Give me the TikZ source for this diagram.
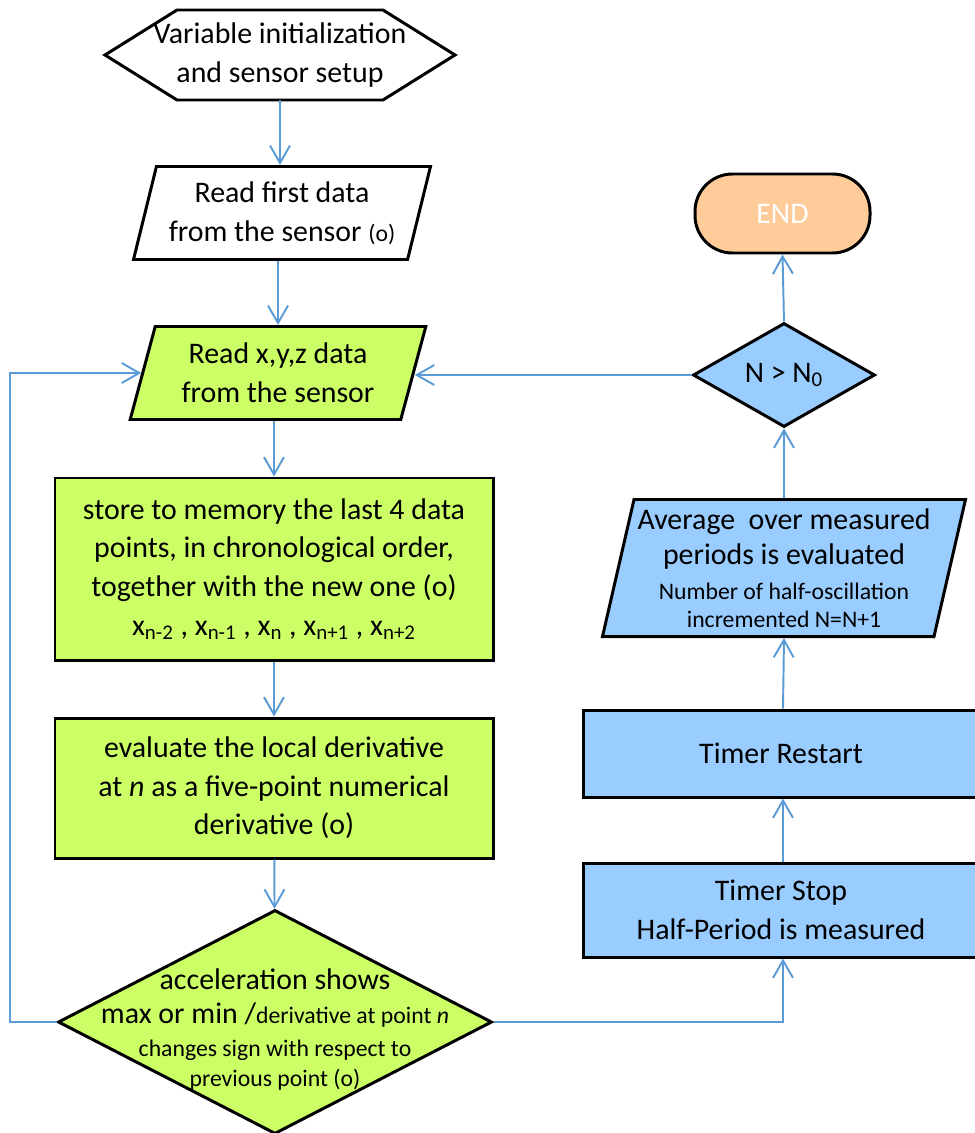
\documentclass[tikz,border=0pt]{standalone}
\usepackage{fontspec}
\setmainfont{Carlito}
\usetikzlibrary{shapes.geometric,arrows.meta}
\definecolor{flowline}{HTML}{5B9BD5}
\definecolor{greenbox}{HTML}{CCFF66}
\definecolor{bluebox}{HTML}{99CCFF}
\definecolor{endbox}{HTML}{FFCC99}
\newcommand{\smtxt}{\fontsize{13.5}{18}\selectfont}

\begin{document}
\begin{tikzpicture}[
    box/.style={draw, line width=1.7pt, align=center, inner sep=2pt, font=\fontsize{17}{22}\selectfont},
    io/.style={box, trapezium, trapezium left angle=73, trapezium right angle=107, trapezium stretches=true},
    decision/.style={box, diamond, inner sep=0pt},
    flow/.style={draw=flowline, line width=1.1pt, -{Straight Barb[length=3.5mm,width=4mm]}}
  ]
  \useasboundingbox (0,0) rectangle (19.48,-22.66);

  % left column
  \node[align=center, outer sep=0pt, minimum width=7cm, minimum height=1.8cm,
        font=\fontsize{17}{22}\selectfont] (init) at (5.6,-1.1)
        {Variable initialization\\and sensor setup};
  \draw[line width=1.7pt] (init.west) -- ([xshift=1.44cm]init.north west) -- ([xshift=-1.44cm]init.north east)
     -- (init.east) -- ([xshift=-1.44cm]init.south east) -- ([xshift=1.44cm]init.south west) -- cycle;
  \node[io, minimum width=5.94cm, minimum height=1.86cm] (first) at (5.64,-4.26)
        {Read first data\\from the sensor {\smtxt (o)}};
  \node[io, fill=greenbox, minimum width=5.92cm, minimum height=1.86cm] (read) at (5.56,-7.46)
        {Read x,y,z data\\from the sensor};
  \node[box, fill=greenbox, minimum width=8.76cm, minimum height=3.64cm] (store) at (5.48,-11.38)
        {store to memory the last 4 data\\points, in chronological order,\\together with the new one (o)\\
         x\textsubscript{n-2} , x\textsubscript{n-1} , x\textsubscript{n} , x\textsubscript{n+1} , x\textsubscript{n+2}};
  \node[box, fill=greenbox, minimum width=8.76cm, minimum height=2.8cm] (deriv) at (5.48,-15.76)
        {evaluate the local derivative\\at \textit{n} as a five-point numerical\\derivative (o)};
  \node[decision, fill=greenbox, minimum width=8.68cm, minimum height=4.48cm] (check) at (5.5,-20.44) {};
  \node[align=center, font=\fontsize{17}{19}\selectfont] (checktxt) at ([yshift=-0.15cm]check.center)
        {acceleration shows\\max or min /{\smtxt derivative at point \textit{n}}\\
         {\smtxt changes sign with respect to}\\[-2pt]{\smtxt previous point (o)}};

  % right column
  \node[box, fill=bluebox, minimum width=7.9cm, minimum height=1.88cm] (stop) at (15.62,-18.2)
        {Timer Stop\\Half-Period is measured};
  \node[box, fill=bluebox, minimum width=7.9cm, minimum height=1.74cm] (restart) at (15.62,-15.07)
        {Timer Restart};
  \node[io, fill=bluebox, trapezium left angle=76, trapezium right angle=104,
        minimum width=7.1cm, minimum height=2.74cm, font=\fontsize{17}{20}\selectfont] (avg) at (15.68,-11.36)
        {Average\ \ over measured\\periods is evaluated\\
         {\smtxt Number of half-oscillation}\\[-4pt]{\smtxt incremented N=N+1}};
  \node[decision, fill=bluebox, minimum width=3.64cm, minimum height=2.08cm] (cond) at (15.68,-7.5)
        {N > N\textsubscript{0}};
  \node[box, fill=endbox, text=white, rounded corners=0.75cm,
        minimum width=3.5cm, minimum height=1.58cm] (end) at (15.65,-4.27) {END};

  % connectors
  \draw[flow] (init.south) -- (init.south |- first.north);
  \draw[flow] (first.south -| read.north) -- (read.north);
  \draw[flow] (read.south -| store.north) -- (store.north);
  \draw[flow] (store) -- (deriv);
  \draw[flow] (deriv) -- (check);
  \draw[flow] (check.west) -- (0.2,-20.44) |- (read.west);
  \draw[flow] (check.east) -| ([xshift=0.04cm]stop.south);
  \draw[flow] ([xshift=0.04cm]stop.north) -- ([xshift=0.04cm]restart.south);
  \draw[flow] ([xshift=0.04cm]restart.north) -- (avg.south -| cond.south);
  \draw[flow] (avg.north -| cond.south) -- (cond.south);
  \draw[flow] (cond.west) -- (cond.west -| read.east);
  \draw[flow] (cond.north) -- (end.south);
\end{tikzpicture}
\end{document}
